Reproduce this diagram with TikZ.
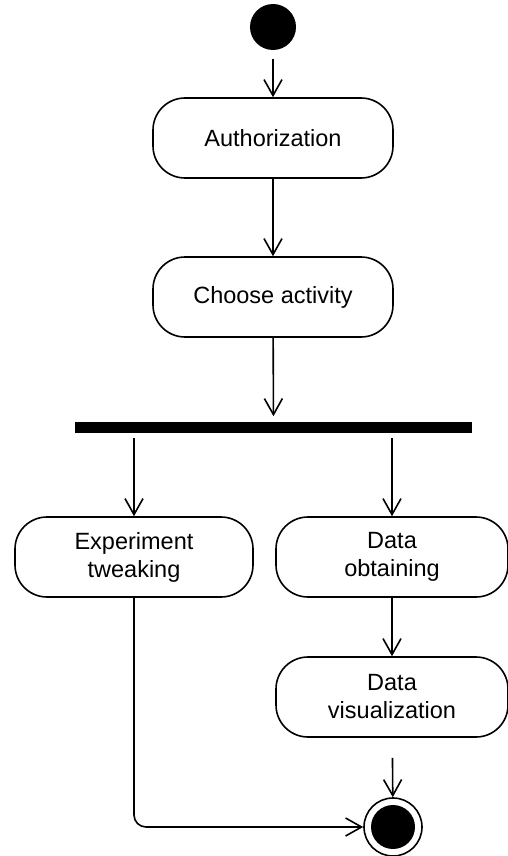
\documentclass[tikz,border=0pt]{standalone}
\usepackage{fontspec}
\setmainfont{Liberation Sans}
\usetikzlibrary{arrows.meta}

\begin{document}
\begin{tikzpicture}
  [x=1pt,y=-1pt,line width=1.6pt,
   action/.style={draw,rounded corners=32pt,minimum height=80pt,align=center,
     inner sep=0pt,font=\fontsize{23.5}{28}\selectfont},
   flow/.style={-{Straight Barb[length=16pt,width=18pt,line width=1.6pt]}}]
  \useasboundingbox (0,0) rectangle (508,856);

  \node (start) at (273,27) [circle,fill,minimum size=46pt,inner sep=0pt] {};
  \node (auth) at (273,138) [action,minimum width=240pt] {Authorization};
  \node (choose) at (273,297) [action,minimum width=240pt] {Choose activity};
  \node (fork) at (273.5,427.5) [fill,minimum width=397pt,minimum height=11pt,inner sep=0pt] {};
  \node (tweak) at (134,557) [action,minimum width=238pt] {Experiment\\tweaking};
  \node (obtain) at (392,557) [action,minimum width=232pt] {Data\\obtaining};
  \node (visual) at (392,697) [action,minimum width=232pt] {Data\\visualization};
  \node (stop) at (393,827) [circle,draw,minimum size=58pt,inner sep=0pt] {};
  \node (stopdot) at (stop) [circle,fill,minimum size=44pt,inner sep=0pt] {};

  \draw[flow,shorten <=8pt] (start) -- (auth);
  \draw[flow] (auth) -- (choose);
  \draw[flow,shorten >=5pt] (choose) -- (fork);
  \draw[flow,shorten <=4pt] (tweak.north |- fork.south) -- (tweak);
  \draw[flow,shorten <=4pt] (obtain.north |- fork.south) -- (obtain);
  \draw[flow] (obtain) -- (visual);
  \draw[flow,shorten <=20pt] (visual) -- (stop);
  \draw[flow,rounded corners=12pt] (tweak) |- (stop);
\end{tikzpicture}
\end{document}
